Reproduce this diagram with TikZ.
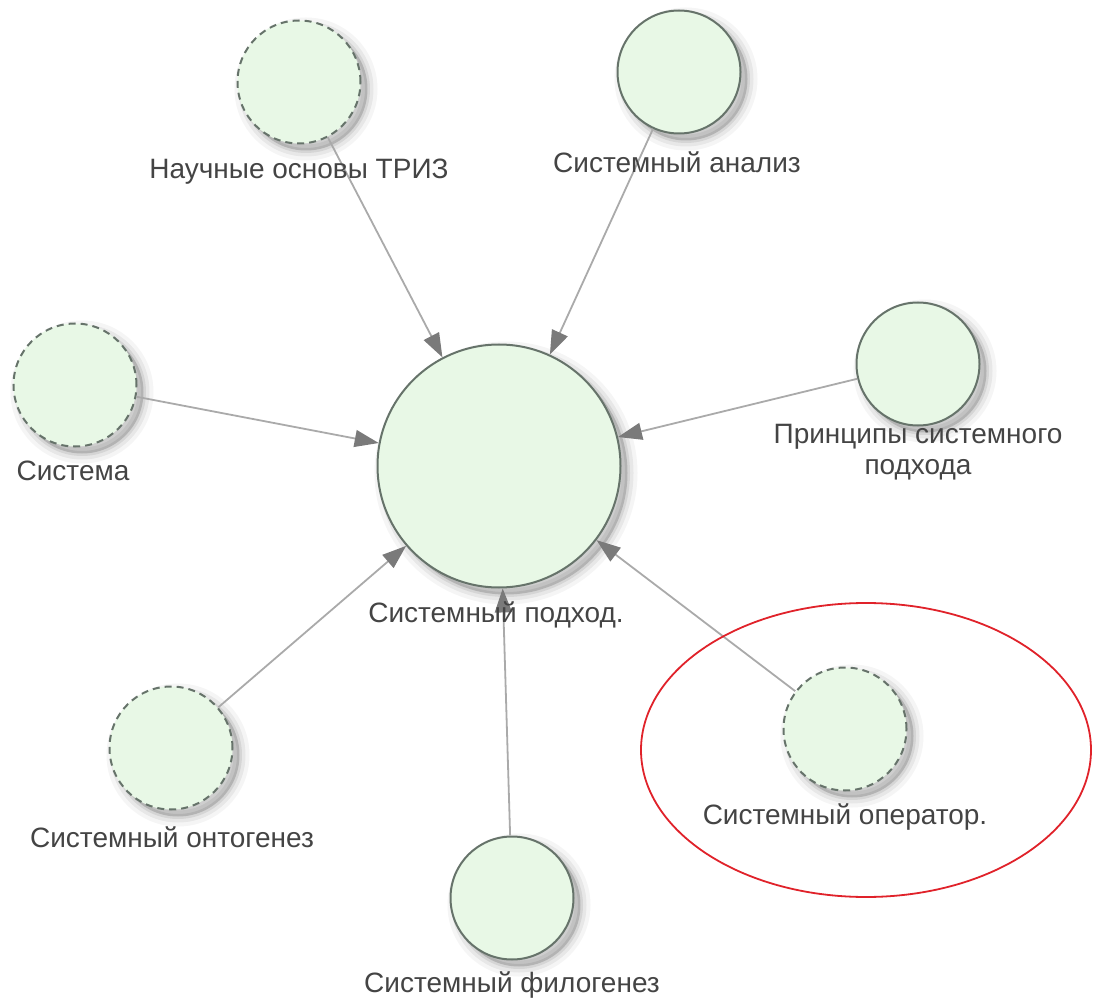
\documentclass[tikz,border=0pt]{standalone}
\usepackage{fontspec}
\setmainfont{Liberation Sans}
\usetikzlibrary{arrows.meta,shapes.geometric}
\definecolor{nodefill}{HTML}{E8F8E6}
\definecolor{nodeline}{HTML}{66736A}
\definecolor{connc}{HTML}{AAAAAA}
\definecolor{tipc}{HTML}{7A7A7A}
\definecolor{txt}{HTML}{444444}
\definecolor{ring}{HTML}{E0222A}
\begin{document}
\begin{tikzpicture}[x=1pt,y=-1pt,
  softshadow/.style={
    preaction={solid, fill=black, fill opacity=0.16, draw=black, draw opacity=0.04, line width=20pt,
      transform canvas={xshift=7pt,yshift=-7pt}},
    preaction={solid, draw=black, draw opacity=0.06, line width=12pt,
      transform canvas={xshift=7pt,yshift=-7pt}},
    preaction={solid, draw=black, draw opacity=0.08, line width=5pt,
      transform canvas={xshift=7pt,yshift=-7pt}}},
  bubble/.style={circle, draw=nodeline, fill=nodefill, line width=2pt, inner sep=0pt,
    minimum size=123pt, softshadow},
  bigbubble/.style={bubble, minimum size=243pt},
  dbubble/.style={bubble, dash pattern=on 7pt off 5pt},
  lbl/.style={text=txt, font=\fontsize{28}{31}\selectfont, align=center, inner sep=0pt},
  conn/.style={draw=connc, line width=1.8pt, -{Triangle[length=24pt,width=17pt,color=tipc,fill=tipc]}},
  focus/.style={ellipse, draw=ring, line width=1.8pt, inner sep=0pt, minimum width=450pt, minimum height=294pt}
]
\useasboundingbox (0,0) rectangle (1093,1000);

% nodes
\node[bigbubble] (c) at (499,466) {};
\node[dbubble] (triz) at (299,82) {};
\node[bubble] (anal) at (679,72) {};
\node[dbubble] (sys) at (75,385) {};
\node[bubble] (princ) at (918,364) {};
\node[dbubble] (onto) at (171,748) {};
\node[bubble] (filo) at (512,898) {};
\node[dbubble] (oper) at (845,729) {};

% connectors
\draw[conn] (triz) -- (c);
\draw[conn] (anal) -- (c);
\draw[conn] (sys) -- (c);
\draw[conn] (princ) -- (c);
\draw[conn] (onto) -- (c);
\draw[conn] (filo) -- (c);
\draw[conn] (oper) -- (c);

% labels
\node[lbl] (ltriz) at (299,172) {Научные основы ТРИЗ};
\node[lbl] (lanal) at (677,162) {Системный анализ};
\node[lbl] (lsys) at (73,471) {Система};
\node[lbl] (lprinc) at (918,452) {Принципы системного\\подхода};
\node[lbl] (lc) at (496,615) {Системный подход.};
\node[lbl] (lonto) at (172,837) {Системный онтогенез};
\node[lbl] (lfilo) at (512,985) {Системный филогенез};
\node[lbl] (loper) at (845,817) {Системный оператор.};

% highlight
\node[focus] (hl) at (866,750) {};
\end{tikzpicture}
\end{document}
